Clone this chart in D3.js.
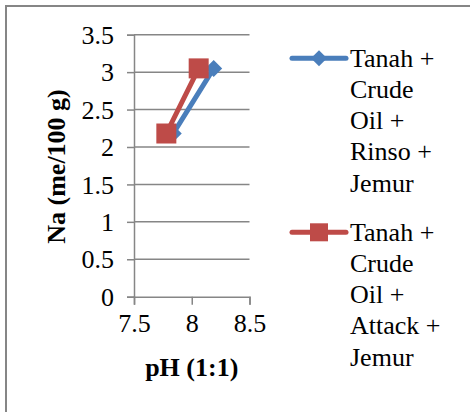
<!DOCTYPE html>
<html>
<head>
<meta charset="utf-8">
<script src="https://cdn.jsdelivr.net/npm/d3@7"></script>
<style>
  html, body { margin: 0; padding: 0; background: #fff; }
  svg { display: block; }
</style>
</head>
<body>
<svg id="chart" width="470" height="412"></svg>
<script>
// pH (1:1) vs Na (me/100 g) for two treatments
const seriesNames = [
  ["Tanah +", "Crude", "Oil +", "Rinso +", "Jemur"],
  ["Tanah +", "Crude", "Oil +", "Attack +", "Jemur"]
];
const phRinso = [7.84, 8.19];
const naRinso = [2.18, 3.05];
const phAttack = [7.78, 8.06];
const naAttack = [2.18, 3.05];
const xTicks = [7.5, 8, 8.5];
const yTicks = [0, 0.5, 1, 1.5, 2, 2.5, 3, 3.5];
const xTitle = "pH (1:1)";
const yTitle = "Na (me/100 g)";

const colors = ["#4A7EBB", "#BE4B48"];
const gridColor = "#868686";
const FONT = '"Liberation Serif", "Times New Roman", serif';

const svg = d3.select("#chart");

// chart frame
svg.append("rect")
  .attr("x", 6).attr("y", 6)
  .attr("width", 480).attr("height", 420)
  .attr("fill", "#fff")
  .attr("stroke", "#868686").attr("stroke-width", 2);

const plot = { left: 134, right: 249.5, top: 34.7, bottom: 296.7 };

const x = d3.scaleLinear().domain([7.5, 8.5]).range([plot.left, plot.right]);
const y = d3.scaleLinear().domain([0, 3.5]).range([plot.bottom, plot.top]);

// horizontal gridlines
svg.append("g")
  .selectAll("line")
  .data(yTicks.filter(d => d > 0))
  .join("line")
  .attr("x1", plot.left).attr("x2", plot.right)
  .attr("y1", d => y(d)).attr("y2", d => y(d))
  .attr("stroke", gridColor).attr("stroke-width", 1.5);

// y axis
const yAxis = svg.append("g")
  .attr("transform", `translate(${plot.left},0)`)
  .call(d3.axisLeft(y).tickValues(yTicks).tickSize(7).tickPadding(13)
    .tickFormat(d => String(d)));
yAxis.select(".domain").attr("stroke", gridColor).attr("stroke-width", 1.5);
yAxis.selectAll(".tick line").attr("stroke", gridColor).attr("stroke-width", 1.5);
yAxis.selectAll(".tick text")
  .style("font-family", FONT).style("font-size", "26px")
  .attr("fill", "#000").attr("dy", "0.33em");

// x axis
const xAxis = svg.append("g")
  .attr("transform", `translate(0,${plot.bottom})`)
  .call(d3.axisBottom(x).tickValues(xTicks).tickSize(8).tickPadding(9)
    .tickFormat(d => String(d)));
xAxis.select(".domain").attr("stroke", gridColor).attr("stroke-width", 1.5);
xAxis.selectAll(".tick line").attr("stroke", gridColor).attr("stroke-width", 1.5);
xAxis.selectAll(".tick text")
  .style("font-family", FONT).style("font-size", "26px")
  .attr("fill", "#000");

// axis titles
svg.append("text")
  .attr("x", (plot.left + plot.right) / 2).attr("y", 376)
  .attr("text-anchor", "middle")
  .style("font-family", FONT).style("font-size", "26px").style("font-weight", "bold")
  .text(xTitle);

svg.append("text")
  .attr("transform", `translate(65,${(90 + 243) / 2}) rotate(-90)`)
  .attr("text-anchor", "middle")
  .style("font-family", FONT).style("font-size", "26px").style("font-weight", "bold")
  .text(yTitle);

// series
const series = [
  { pts: phRinso.map((p, i) => [p, naRinso[i]]), marker: "diamond" },
  { pts: phAttack.map((p, i) => [p, naAttack[i]]), marker: "square" }
];

const line = d3.line().x(d => x(d[0])).y(d => y(d[1]));

function drawMarker(g, cx, cy, kind, color, size) {
  if (kind === "diamond") {
    const r = size;
    g.append("path")
      .attr("d", `M${cx},${cy - r}L${cx + r},${cy}L${cx},${cy + r}L${cx - r},${cy}Z`)
      .attr("fill", color);
  } else {
    g.append("rect")
      .attr("x", cx - size).attr("y", cy - size)
      .attr("width", size * 2).attr("height", size * 2)
      .attr("fill", color);
  }
}

series.forEach((s, i) => {
  const g = svg.append("g");
  g.append("path")
    .datum(s.pts)
    .attr("d", line)
    .attr("fill", "none")
    .attr("stroke", colors[i]).attr("stroke-width", 5)
    .attr("stroke-linecap", "round");
  s.pts.forEach(d => drawMarker(g, x(d[0]), y(d[1]), s.marker, colors[i], s.marker === "diamond" ? 8.5 : 10));
});

// legend
const legendTop = [58.3, 232.3];
const lineH = 31.2;
seriesNames.forEach((lines, i) => {
  const g = svg.append("g");
  const ly = legendTop[i];
  g.append("line")
    .attr("x1", 292).attr("x2", 346)
    .attr("y1", ly).attr("y2", ly)
    .attr("stroke", colors[i]).attr("stroke-width", 5)
    .attr("stroke-linecap", "round");
  drawMarker(g, 319, ly, series[i].marker, colors[i], series[i].marker === "diamond" ? 8 : 9);
  g.selectAll("text")
    .data(lines)
    .join("text")
    .attr("x", 350)
    .attr("y", (d, k) => ly + 8.5 + k * lineH)
    .style("font-family", FONT).style("font-size", "26px")
    .attr("fill", "#000")
    .text(d => d);
});
</script>
</body>
</html>
